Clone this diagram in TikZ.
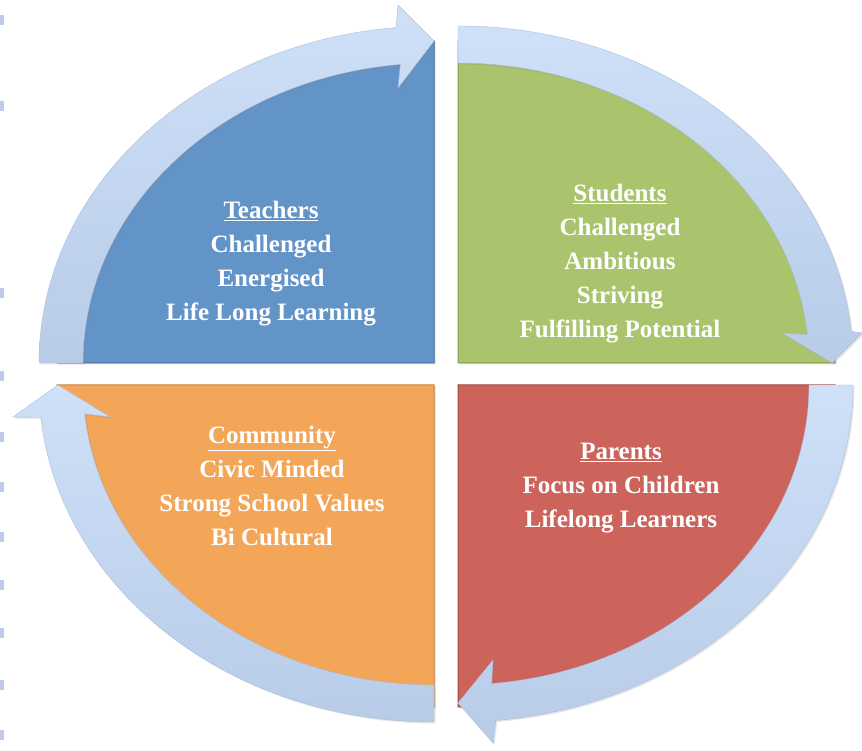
\documentclass[tikz,border=0pt]{standalone}
\usepackage{fontspec}
\setmainfont{Liberation Serif}
\usetikzlibrary{calc,shadows}

\definecolor{teachblue}{RGB}{99,148,200}
\definecolor{teachedge}{RGB}{70,112,160}
\definecolor{studgreen}{RGB}{169,196,108}
\definecolor{studedge}{RGB}{130,155,75}
\definecolor{commorange}{RGB}{243,166,87}
\definecolor{commedge}{RGB}{200,130,60}
\definecolor{parred}{RGB}{204,100,92}
\definecolor{paredge}{RGB}{160,72,66}
\definecolor{bandtop}{RGB}{207,224,248}
\definecolor{bandbot}{RGB}{184,204,232}
\definecolor{bandedge}{RGB}{170,190,222}
\definecolor{markblue}{RGB}{190,202,232}

\tikzset{
  every picture/.style={line width=0.75pt},
  quad/.style={line width=1pt, drop shadow={opacity=0.25, shadow xshift=1.5pt, shadow yshift=-1.5pt}},
  band/.style={top color=bandtop, bottom color=bandbot, draw=bandedge, line width=0.4pt,
               drop shadow={opacity=0.2, shadow xshift=1.5pt, shadow yshift=-1.5pt}},
  quadtext/.style={text=white, align=center, inner sep=0pt,
                   font=\fontsize{25}{34}\selectfont\bfseries},
  edgemark/.style={fill=markblue, draw=none}
}

\begin{document}
\begin{tikzpicture}[x=1pt, y=1pt]

    \useasboundingbox (0,0) rectangle (862,750);

    % centres of the four quarters
    \coordinate (tc) at (434,387);
    \coordinate (sc) at (458,387);
    \coordinate (cc) at (434,365);
    \coordinate (pc) at (458,365);

    % Quadrant: Teachers
    \draw [quad, fill=teachblue, draw=teachedge]
          (tc) -- ($(tc)+(-377,0)$)
          arc [start angle=180, end angle=90, x radius=377pt, y radius=322pt] -- cycle;

    % Quadrant: Students
    \draw [quad, fill=studgreen, draw=studedge]
          (sc) -- ($(sc)+(0,322)$)
          arc [start angle=90, end angle=0, x radius=377pt, y radius=322pt] -- cycle;

    % Quadrant: Community
    \draw [quad, fill=commorange, draw=commedge]
          (cc) -- ($(cc)+(0,-322)$)
          arc [start angle=270, end angle=180, x radius=377pt, y radius=322pt] -- cycle;

    % Quadrant: Parents
    \draw [quad, fill=parred, draw=paredge]
          (pc) -- ($(pc)+(377,0)$)
          arc [start angle=0, end angle=-90, x radius=377pt, y radius=322pt] -- cycle;

    % Arrow: left -> top
    \draw [band] ($(tc)+(180:395pt and 337pt)$)
          arc [start angle=180, end angle=95.5, x radius=395pt, y radius=337pt]
          -- (398,745) -- (434,709) -- (398,662)
          -- ($(tc)+(95.5:351pt and 300pt)$)
          arc [start angle=95.5, end angle=180, x radius=351pt, y radius=300pt] -- cycle;

    % Arrow: top -> right
    \draw [band] ($(sc)+(90:395pt and 337pt)$)
          arc [start angle=90, end angle=5.4, x radius=395pt, y radius=337pt]
          -- (862,417) -- (832,387) -- (782,417)
          -- ($(sc)+(5.4:351pt and 300pt)$)
          arc [start angle=5.4, end angle=90, x radius=351pt, y radius=300pt] -- cycle;

    % Arrow: right -> bottom
    \draw [band] ($(pc)+(0:395pt and 337pt)$)
          arc [start angle=0, end angle=-84.5, x radius=395pt, y radius=337pt]
          -- (493,7) -- (458,47) -- (493,90)
          -- ($(pc)+(-84.5:351pt and 300pt)$)
          arc [start angle=-84.5, end angle=0, x radius=351pt, y radius=300pt] -- cycle;

    % Arrow: bottom -> left
    \draw [band] ($(cc)+(270:395pt and 337pt)$)
          arc [start angle=270, end angle=185.5, x radius=395pt, y radius=337pt]
          -- (13,333) -- (58,365) -- (110,333)
          -- ($(cc)+(185.5:351pt and 300pt)$)
          arc [start angle=185.5, end angle=270, x radius=351pt, y radius=300pt] -- cycle;

    % Labels
    \node [quadtext] (teachers) at (271,486)
          {\underline{Teachers}\\Challenged\\Energised\\Life Long Learning};
    \node [quadtext] (students) at (620,486)
          {\underline{Students}\\Challenged\\Ambitious\\Striving\\Fulfilling Potential};
    \node [quadtext] (community) at (272,264)
          {\underline{Community}\\Civic Minded\\Strong School Values\\Bi Cultural};
    \node [quadtext] (parents) at (621,262)
          {\underline{Parents}\\Focus on Children\\Lifelong Learners};

    % left edge marks
    \foreach \y in {20,106,293,376,437,487,537,585,633,685,735}
        \path [edgemark] (0,750-\y-5) rectangle (4,750-\y+5);

\end{tikzpicture}
\end{document}
